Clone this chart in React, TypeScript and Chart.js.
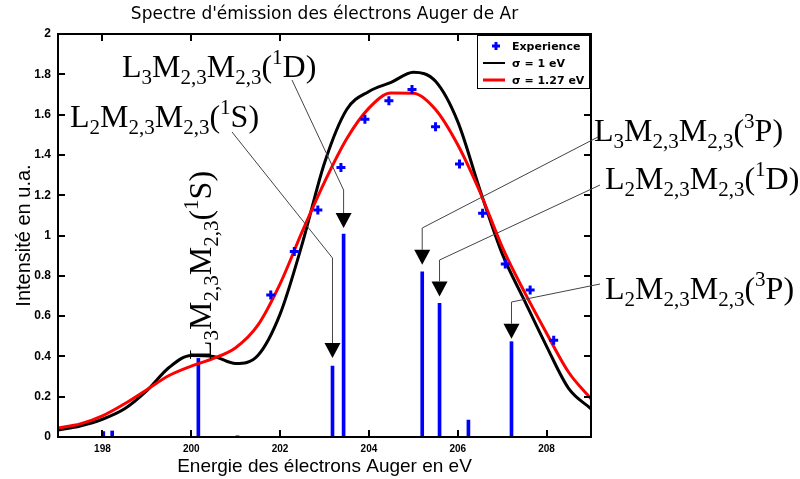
import React, { useEffect, useRef } from 'react';
import { Chart, registerables } from 'chart.js';

Chart.register(...registerables);

const titleText = "Spectre d'émission des électrons Auger de Ar";
const xAxisTitle = 'Energie des électrons Auger en eV';
const yAxisTitle = 'Intensité en u.a.';
const xTickValues = [198, 200, 202, 204, 206, 208];
const yTickValues = [0, 0.2, 0.4, 0.6, 0.8, 1, 1.2, 1.4, 1.6, 1.8, 2];

const legendLabels = ['Experience', 'σ = 1 eV', 'σ = 1.27 eV'];

// experimental points
const expEnergies = [201.79, 202.32, 202.85, 203.37, 203.91, 204.45, 204.97, 205.5, 206.04, 206.56, 207.07, 207.63, 208.16];
const expIntensities = [0.705, 0.92, 1.127, 1.338, 1.577, 1.669, 1.725, 1.54, 1.355, 1.11, 0.859, 0.73, 0.48];

// Auger lines (sticks)
const lineEnergies = [198.02, 198.22, 200.16, 201.04, 203.18, 203.43, 205.2, 205.59, 206.24, 207.21];
const lineIntensities = [0.027, 0.03, 0.39, 0.006, 0.352, 1.007, 0.82, 0.663, 0.084, 0.473];

// broadened spectra
const curveEnergies = [197, 197.5, 198, 198.5, 199, 199.5, 200, 200.5, 201, 201.5, 202, 202.5, 203, 203.5, 204, 204.5, 205, 205.5, 206, 206.5, 207, 207.5, 208, 208.5, 209];
const sigma1Values = [0.035, 0.055, 0.088, 0.14, 0.23, 0.345, 0.405, 0.4, 0.365, 0.405, 0.61, 0.96, 1.36, 1.625, 1.715, 1.76, 1.81, 1.765, 1.565, 1.226, 0.91, 0.678, 0.45, 0.24, 0.14];
const sigma127Values = [0.045, 0.065, 0.105, 0.165, 0.235, 0.305, 0.352, 0.39, 0.443, 0.555, 0.76, 1.02, 1.265, 1.48, 1.632, 1.707, 1.706, 1.625, 1.45, 1.216, 0.944, 0.72, 0.515, 0.32, 0.19];

// annotations: [L index, multiplicity, term]
const annotationTerms = [
  ['3', '1', 'D'],
  ['2', '1', 'S'],
  ['3', '1', 'S'],
  ['3', '3', 'P'],
  ['2', '1', 'D'],
  ['2', '3', 'P'],
];
const annotationLines = [5, 4, 2, 6, 7, 9];

type Part = [string, 'n' | 'sub' | 'sup'];
function formulaParts(l: string, mult: string, term: string): Part[] {
  return [
    ['L', 'n'], [l, 'sub'], ['M', 'n'], ['2,3', 'sub'], ['M', 'n'], ['2,3', 'sub'],
    ['(', 'n'], [mult, 'sup'], [term + ')', 'n'],
  ];
}

function drawFormula(ctx: CanvasRenderingContext2D, parts: Part[], x: number, y: number) {
  let cx = x;
  ctx.textAlign = 'left';
  ctx.textBaseline = 'alphabetic';
  for (const [t, kind] of parts) {
    ctx.font = kind === 'n' ? '32px "Liberation Serif"' : '21px "Liberation Serif"';
    const dy = kind === 'sub' ? 7 : kind === 'sup' ? -13 : 0;
    ctx.fillText(t, cx, y + dy);
    cx += ctx.measureText(t).width;
  }
}

// layout of each annotation (pixels): text origin, leader start, bend y, gap above bar
const annotationLayout = [
  { tx: 122, ty: 77, sx: 292, sy: 80, by: 190, gap: 6, vertical: false },
  { tx: 70, ty: 127, sx: 232, sy: 132, by: 258, gap: 8, vertical: false },
  { tx: 211, ty: 360, sx: 0, sy: 0, by: 0, gap: 0, vertical: true },
  { tx: 594, ty: 141, sx: 598, sy: 137, by: 228, gap: 7, vertical: false },
  { tx: 605, ty: 189, sx: 600, sy: 185, by: 260, gap: 7, vertical: false },
  { tx: 605, ty: 299, sx: 600, sy: 284, by: 302, gap: 3, vertical: false },
];

const overlayPlugin = {
  id: 'overlay',
  beforeDraw(chart: any) {
    const { ctx, chartArea: a } = chart;
    ctx.save();
    ctx.fillStyle = '#fff';
    ctx.fillRect(0, 0, chart.width, chart.height);
    ctx.fillStyle = '#000';
    ctx.font = '17px "DejaVu Sans"';
    ctx.textAlign = 'center';
    ctx.textBaseline = 'middle';
    ctx.fillText(titleText, (a.left + a.right) / 2, 15);
    ctx.restore();
  },
  afterDatasetsDraw(chart: any) {
    const { ctx, chartArea: a, scales } = chart;
    const xs = scales.x;
    const ys = scales.y;
    ctx.save();
    // frame
    ctx.strokeStyle = '#000';
    ctx.lineWidth = 2;
    ctx.strokeRect(a.left, a.top, a.right - a.left, a.bottom - a.top);
    ctx.beginPath();
    for (const v of xTickValues) {
      const px = Math.round(xs.getPixelForValue(v));
      ctx.moveTo(px, a.bottom); ctx.lineTo(px, a.bottom - 7);
      ctx.moveTo(px, a.top); ctx.lineTo(px, a.top + 7);
    }
    for (const v of yTickValues) {
      const py = Math.round(ys.getPixelForValue(v));
      ctx.moveTo(a.left, py); ctx.lineTo(a.left + 7, py);
      ctx.moveTo(a.right, py); ctx.lineTo(a.right - 7, py);
    }
    ctx.stroke();

    // annotations
    annotationTerms.forEach((term, i) => {
      const lay = annotationLayout[i];
      const idx = annotationLines[i];
      const parts = formulaParts(term[0], term[1], term[2]);
      ctx.fillStyle = '#000';
      if (lay.vertical) {
        ctx.save();
        ctx.translate(lay.tx, lay.ty);
        ctx.rotate(-Math.PI / 2);
        drawFormula(ctx, parts, 0, 0);
        ctx.restore();
        return;
      }
      drawFormula(ctx, parts, lay.tx, lay.ty);
      const bx = xs.getPixelForValue(lineEnergies[idx]);
      const btop = ys.getPixelForValue(lineIntensities[idx]);
      const tip = btop - lay.gap;
      const headTop = tip - 15;
      ctx.strokeStyle = '#444';
      ctx.lineWidth = 1;
      ctx.beginPath();
      ctx.moveTo(lay.sx, lay.sy);
      ctx.lineTo(bx, lay.by);
      ctx.lineTo(bx, headTop);
      ctx.stroke();
      ctx.fillStyle = '#000';
      ctx.beginPath();
      ctx.moveTo(bx - 8, headTop);
      ctx.lineTo(bx + 8, headTop);
      ctx.lineTo(bx, tip);
      ctx.closePath();
      ctx.fill();
    });

    // legend
    const lx = 477.5, ly = 35.5, lw = 112, lh = 53;
    ctx.fillStyle = '#fff';
    ctx.fillRect(lx, ly, lw, lh);
    ctx.strokeStyle = '#000';
    ctx.lineWidth = 1;
    ctx.strokeRect(lx, ly, lw, lh);
    const rows = [46, 63, 80];
    ctx.strokeStyle = '#0000ff';
    ctx.lineWidth = 3;
    ctx.beginPath();
    ctx.moveTo(496, rows[0] - 4); ctx.lineTo(496, rows[0] + 4);
    ctx.moveTo(492, rows[0]); ctx.lineTo(500, rows[0]);
    ctx.stroke();
    ctx.strokeStyle = '#000';
    ctx.lineWidth = 2;
    ctx.beginPath(); ctx.moveTo(483, rows[1]); ctx.lineTo(505, rows[1]); ctx.stroke();
    ctx.strokeStyle = '#ff0000';
    ctx.lineWidth = 3;
    ctx.beginPath(); ctx.moveTo(483, rows[2]); ctx.lineTo(505, rows[2]); ctx.stroke();
    ctx.fillStyle = '#000';
    ctx.font = 'bold 11px "DejaVu Sans"';
    ctx.textAlign = 'left';
    ctx.textBaseline = 'middle';
    legendLabels.forEach((t, i) => ctx.fillText(t, 512, rows[i] + 1));
    ctx.restore();
  },
};

export default function App() {
  const ref = useRef<HTMLCanvasElement>(null);
  useEffect(() => {
    const canvas = ref.current;
    if (!canvas) return;
    const chart = new Chart(canvas, {
      type: 'line',
      data: {
        datasets: [
          {
            type: 'scatter',
            label: legendLabels[0],
            data: expEnergies.map((x, i) => ({ x, y: expIntensities[i] })),
            pointStyle: 'cross',
            pointRadius: 4.5,
            pointBorderWidth: 3,
            borderColor: '#0000ff',
            backgroundColor: '#0000ff',
            order: 0,
          } as any,
          {
            type: 'line',
            label: legendLabels[2],
            data: curveEnergies.map((x, i) => ({ x, y: sigma127Values[i] })),
            borderColor: '#ff0000',
            borderWidth: 3,
            pointRadius: 0,
            cubicInterpolationMode: 'monotone',
            fill: false,
            order: 1,
          },
          {
            type: 'line',
            label: legendLabels[1],
            data: curveEnergies.map((x, i) => ({ x, y: sigma1Values[i] })),
            borderColor: '#000000',
            borderWidth: 3,
            pointRadius: 0,
            cubicInterpolationMode: 'monotone',
            fill: false,
            order: 2,
          },
          {
            type: 'bar',
            label: 'raies',
            data: lineEnergies.map((x, i) => ({ x, y: lineIntensities[i] })),
            backgroundColor: '#0000ff',
            borderWidth: 0,
            barThickness: 3,
            order: 3,
          } as any,
        ],
      },
      options: {
        responsive: false,
        animation: false,
        layout: { padding: { left: 0, right: 209, top: 34, bottom: 0 } },
        plugins: {
          legend: { display: false },
          title: { display: false },
          tooltip: { enabled: false },
        },
        scales: {
          x: {
            type: 'linear',
            min: 197,
            max: 209,
            offset: false,
            grid: { display: false, drawTicks: false },
            border: { display: false },
            afterBuildTicks: (s: any) => { s.ticks = xTickValues.map((v) => ({ value: v })); },
            afterFit: (s: any) => { s.height = 42; },
            ticks: {
              padding: 6,
              color: '#000',
              maxRotation: 0,
              autoSkip: false,
              font: { family: '"Liberation Sans"', size: 10, weight: 'bold' },
              callback: (v: any) => String(v),
            },
            title: {
              display: true,
              text: xAxisTitle,
              color: '#000',
              font: { family: '"Liberation Sans"', size: 19 },
              padding: { top: 0, bottom: 1 },
            },
          },
          y: {
            type: 'linear',
            min: 0,
            max: 2,
            grid: { display: false, drawTicks: false },
            border: { display: false },
            afterBuildTicks: (s: any) => { s.ticks = yTickValues.map((v) => ({ value: v })); },
            afterFit: (s: any) => { s.width = 58; },
            ticks: {
              padding: 7,
              color: '#000',
              autoSkip: false,
              font: { family: '"Liberation Sans"', size: 12, weight: 'bold' },
              callback: (v: any) => String(v),
            },
            title: {
              display: true,
              text: yAxisTitle,
              color: '#000',
              font: { family: '"Liberation Sans"', size: 20 },
              padding: { top: 12, bottom: 0 },
            },
          },
        },
      } as any,
      plugins: [overlayPlugin],
    });
    return () => chart.destroy();
  }, []);
  return (
    <div style={{ position: 'fixed', left: 0, top: 0, width: 800, height: 479, background: '#fff' }}>
      <canvas ref={ref} width={800} height={479} style={{ display: 'block', width: 800, height: 479 }} />
    </div>
  );
}
